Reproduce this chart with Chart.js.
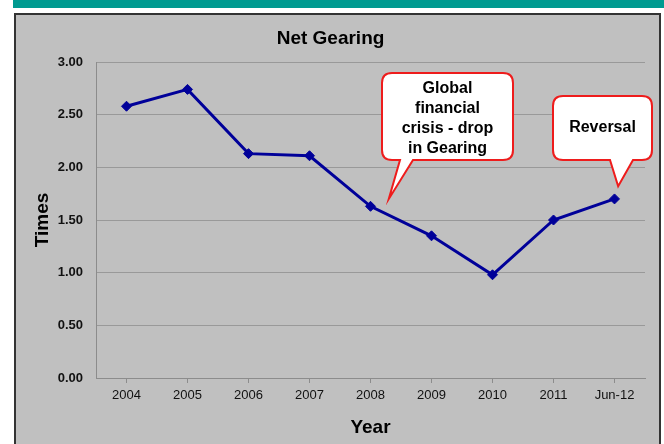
<!DOCTYPE html>
<html>
<head>
<meta charset="utf-8">
<title>Net Gearing</title>
<script src="https://cdn.jsdelivr.net/npm/chart.js@4/dist/chart.umd.min.js"></script>
<style>
  body { margin: 0; background: #fff; width: 664px; height: 444px; overflow: hidden; position: relative; }
  #topbar { position: absolute; left: 13px; top: 0; width: 651px; height: 8px; background: #009a90; }
  #panel { position: absolute; left: 14px; top: 13px; width: 647px; height: 440px; box-sizing: border-box;
    border: 2px solid #333; border-bottom: none; background: #c0c0c0; }
  #myChart { position: absolute; left: 16px; top: 15px; }
</style>
</head>
<body>
<div id="topbar"></div>
<div id="panel"></div>
<canvas id="myChart" width="643" height="429"></canvas>
<script>
  // chart data
  const years = ['2004', '2005', '2006', '2007', '2008', '2009', '2010', '2011', 'Jun-12'];
  const gearing = [2.58, 2.74, 2.13, 2.11, 1.63, 1.35, 0.98, 1.50, 1.70];

  // callout notes: tip is given in data units (category index, value)
  const noteTexts = [['Global', 'financial', 'crisis - drop', 'in Gearing'], ['Reversal']];
  const noteTips = [[4.3, 1.70], [8.06, 1.82]];

  const fontFam = '"Liberation Sans", Arial, sans-serif';

  // draws the speech-bubble callouts on top of the chart
  const calloutPlugin = {
    id: 'callouts',
    afterDraw(chart) {
      const ctx = chart.ctx;
      const xs = chart.scales.x, ys = chart.scales.y;
      const boxes = [
        { l: 366, r: 497, t: 58, b: 145, bl: 384, br: 397, textY: 74 },
        { l: 537, r: 636, t: 81, b: 145, bl: 594, br: 617, textY: 113 }
      ];
      boxes.forEach(function (bx, i) {
        const tx = xs.getPixelForValue(noteTips[i][0]);
        const ty = ys.getPixelForValue(noteTips[i][1]);
        const rad = 10;
        ctx.save();
        ctx.beginPath();
        ctx.moveTo(bx.l + rad, bx.t);
        ctx.lineTo(bx.r - rad, bx.t);
        ctx.quadraticCurveTo(bx.r, bx.t, bx.r, bx.t + rad);
        ctx.lineTo(bx.r, bx.b - rad);
        ctx.quadraticCurveTo(bx.r, bx.b, bx.r - rad, bx.b);
        ctx.lineTo(bx.br, bx.b);
        ctx.lineTo(tx, ty);
        ctx.lineTo(bx.bl, bx.b);
        ctx.lineTo(bx.l + rad, bx.b);
        ctx.quadraticCurveTo(bx.l, bx.b, bx.l, bx.b - rad);
        ctx.lineTo(bx.l, bx.t + rad);
        ctx.quadraticCurveTo(bx.l, bx.t, bx.l + rad, bx.t);
        ctx.closePath();
        ctx.fillStyle = '#ffffff';
        ctx.fill();
        ctx.lineWidth = 2;
        ctx.strokeStyle = '#ee1c1c';
        ctx.stroke();
        ctx.fillStyle = '#000';
        ctx.font = 'bold 16px ' + fontFam;
        ctx.textAlign = 'center';
        ctx.textBaseline = 'middle';
        const cx = (bx.l + bx.r) / 2;
        noteTexts[i].forEach(function (line, j) {
          ctx.fillText(line, cx, bx.textY + j * 20);
        });
        ctx.restore();
      });
    }
  };

  const ctx = document.getElementById('myChart').getContext('2d');
  const myChart = new Chart(ctx, {
    type: 'line',
    data: {
      labels: years,
      datasets: [{
        label: 'Net Gearing',
        data: gearing,
        borderColor: '#000099',
        backgroundColor: '#000099',
        borderWidth: 3,
        pointStyle: 'rectRot',
        pointRadius: 5,
        pointBorderWidth: 1,
        tension: 0
      }]
    },
    options: {
      responsive: false,
      animation: false,
      devicePixelRatio: 1,
      layout: { padding: { left: 0, right: 14, top: 0, bottom: 0 } },
      scales: {
        x: {
          offset: true,
          grid: { display: true, drawOnChartArea: false, offset: false, tickLength: 5, color: '#8c8c8c' },
          border: { color: '#8c8c8c', width: 1 },
          ticks: { color: '#111', padding: 5, maxRotation: 0, font: { family: fontFam, size: 13 } },
          title: { display: true, text: 'Year', color: '#000', padding: { top: 0, bottom: 5 },
            font: { family: fontFam, size: 19, weight: 'bold' } },
          afterFit(scale) { scale.height = 66; }
        },
        y: {
          min: 0,
          max: 3,
          grid: { color: '#999999', drawTicks: false },
          border: { color: '#8c8c8c', width: 1 },
          ticks: { stepSize: 0.5, padding: 13, color: '#111',
            font: { family: fontFam, size: 13, weight: 'bold' },
            callback: function (v) { return v.toFixed(2); } },
          title: { display: true, text: 'Times', color: '#000', padding: { top: 15, bottom: 0 },
            font: { family: fontFam, size: 19, weight: 'bold' } },
          afterFit(scale) { scale.width = 80; }
        }
      },
      plugins: {
        legend: { display: false },
        tooltip: { enabled: false },
        title: {
          display: true,
          text: 'Net Gearing',
          color: '#000',
          padding: { top: 12.5, bottom: 11.7 },
          font: { family: fontFam, size: 19, weight: 'bold' }
        }
      }
    },
    plugins: [calloutPlugin]
  });
</script>
</body>
</html>
